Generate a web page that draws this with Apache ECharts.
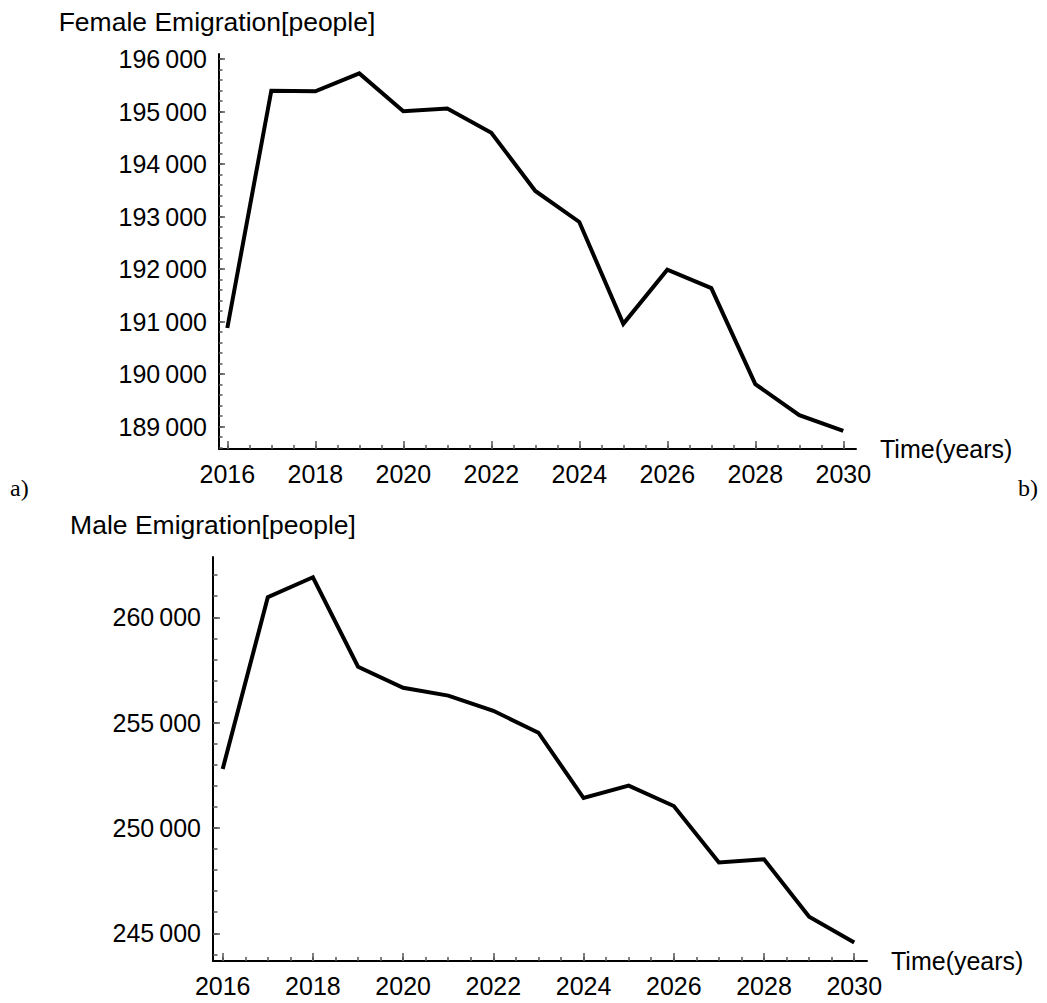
<!DOCTYPE html>
<html>
<head>
<meta charset="utf-8">
<script src="https://cdn.jsdelivr.net/npm/echarts@6/dist/echarts.min.js"></script>
<style>html,body{margin:0;padding:0;background:#fff}#c{width:1047px;height:1003px}</style>
</head>
<body>
<div id="c"></div>
<script>
// ---- data ----
const years = [2016, 2017, 2018, 2019, 2020, 2021, 2022, 2023, 2024, 2025, 2026, 2027, 2028, 2029, 2030];
const femaleEmigration = [190880, 195400, 195390, 195730, 195010, 195060, 194600, 193490, 192900, 190960, 191990, 191640, 189810, 189220, 188920];
const maleEmigration = [252800, 260950, 261900, 257650, 256650, 256280, 255560, 254520, 251420, 252010, 251040, 248360, 248510, 245790, 244560];
const yearTickLabels = [2016, 2018, 2020, 2022, 2024, 2026, 2028, 2030];
const femaleTickLabels = [189000, 190000, 191000, 192000, 193000, 194000, 195000, 196000];
const maleTickLabels = [245000, 250000, 255000, 260000];
const femaleTitle = 'Female Emigration[people]';
const maleTitle = 'Male Emigration[people]';
const timeName = 'Time(years)';

function steps(a, b, s) { const r = []; for (let v = a; v <= b + 1e-9; v += s) r.push(+v.toFixed(3)); return r; }
const yearMinorTicks = steps(2016, 2030, 0.5);
const femaleMinorTicks = steps(188600, 196000, 200);
const maleMinorTicks = steps(244000, 262000, 1000);

const FONT = '"Liberation Sans", Arial, Helvetica, sans-serif';
const fmtNum = v => String(Math.round(v)).replace(/(\d{3})$/, '\u2009$1');

function xAxes(gridIndex, min, max) {
  return [
    {
      type: 'value', gridIndex, min, max, position: 'bottom',
      axisLine: { show: true, onZero: false, lineStyle: { color: '#000', width: 2 } },
      axisTick: { show: true, inside: true, length: 8, customValues: yearTickLabels, lineStyle: { color: '#555', width: 1.5 } },
      axisLabel: { show: true, customValues: yearTickLabels, margin: 12, fontSize: 25, color: '#000', fontFamily: FONT, formatter: v => String(v) },
      splitLine: { show: false },
      name: timeName, nameLocation: 'end', nameGap: 24,
      nameTextStyle: { fontSize: 25, color: '#000', fontFamily: FONT, verticalAlign: 'middle', align: 'left' }
    },
    {
      type: 'value', gridIndex, min, max, position: 'bottom',
      axisLine: { show: false, onZero: false },
      axisTick: { show: true, inside: true, length: 4, customValues: yearMinorTicks, lineStyle: { color: '#555', width: 1.5 } },
      axisLabel: { show: false },
      splitLine: { show: false }
    }
  ];
}
function yAxes(gridIndex, min, max, major, minor, majLen, minLen) {
  return [
    {
      type: 'value', gridIndex, min, max, position: 'left', scale: true,
      axisLine: { show: true, onZero: false, lineStyle: { color: '#000', width: 2 } },
      axisTick: { show: true, inside: true, length: majLen, customValues: major, lineStyle: { color: '#555', width: 1.5 } },
      axisLabel: { show: true, customValues: major, margin: 12, fontSize: 25, color: '#000', fontFamily: FONT, formatter: fmtNum },
      splitLine: { show: false }
    },
    {
      type: 'value', gridIndex, min, max, position: 'left', scale: true,
      axisLine: { show: false, onZero: false },
      axisTick: { show: true, inside: true, length: minLen, customValues: minor, lineStyle: { color: '#555', width: 1.5 } },
      axisLabel: { show: false },
      splitLine: { show: false }
    }
  ];
}

const chart = echarts.init(document.getElementById('c'), null, { renderer: 'svg' });
chart.setOption({
  animation: false,
  backgroundColor: '#fff',
  grid: [
    { left: 219, top: 54, width: 637, height: 395, containLabel: false },
    { left: 213, top: 557, width: 654, height: 404, containLabel: false }
  ],
  xAxis: [].concat(xAxes(0, 2015.811, 2030.289), xAxes(1, 2015.785, 2030.283)),
  yAxis: [].concat(yAxes(0, 188575, 196100, femaleTickLabels, femaleMinorTicks, 6, 3.5),
                   yAxes(1, 243685, 262860, maleTickLabels, maleMinorTicks, 7, 4.5)),
  graphic: [
    { type: 'text', x: 217, y: 22, style: { text: femaleTitle, font: '26.5px ' + FONT, fill: '#000', align: 'center', verticalAlign: 'middle' } },
    { type: 'text', x: 213, y: 525, style: { text: maleTitle, font: '26.5px ' + FONT, fill: '#000', align: 'center', verticalAlign: 'middle' } },
    { type: 'text', x: 10, y: 488, style: { text: 'a)', font: '24px "Liberation Serif", "Times New Roman", serif', fill: '#000', align: 'left', verticalAlign: 'middle' } },
    { type: 'text', x: 1018, y: 488, style: { text: 'b)', font: '24px "Liberation Serif", "Times New Roman", serif', fill: '#000', align: 'left', verticalAlign: 'middle' } }
  ],
  series: [
    {
      type: 'line', xAxisIndex: 0, yAxisIndex: 0, showSymbol: false, silent: true,
      data: years.map((y, i) => [y, femaleEmigration[i]]),
      lineStyle: { color: '#000', width: 4, join: 'miter' }
    },
    {
      type: 'line', xAxisIndex: 2, yAxisIndex: 2, showSymbol: false, silent: true,
      data: years.map((y, i) => [y, maleEmigration[i]]),
      lineStyle: { color: '#000', width: 4, join: 'miter' }
    }
  ]
});
</script>
</body>
</html>
